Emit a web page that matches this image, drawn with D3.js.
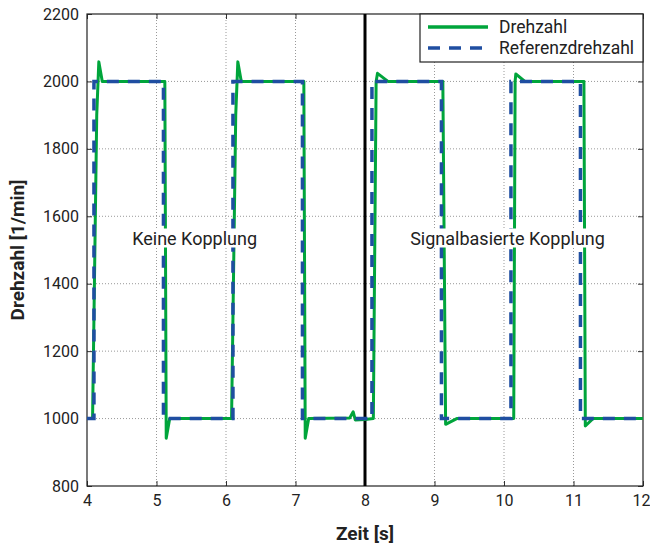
<!DOCTYPE html>
<html>
<head>
<meta charset="utf-8">
<script src="https://cdn.jsdelivr.net/npm/d3@7"></script>
<style>
  body { margin: 0; background: #fff; }
  text { font-family: Roboto, "Liberation Sans", sans-serif; fill: #222; }
</style>
</head>
<body>
<script>
// Daten: Zeit [s], Drehzahl [1/min]
var drehzahl = [
  [4,1000],[4.08,1000],[4.14,1900],[4.17,2058],[4.22,2000],
  [5.12,2000],[5.14,942],[5.19,1000],
  [6.08,1000],[6.14,1900],[6.17,2058],[6.22,2000],
  [7.12,2000],[7.14,942],[7.19,1000],
  [7.78,1002],[7.83,1020],[7.86,996],[8.0,997],
  [8.12,1000],[8.16,2000],[8.18,2024],[8.33,2000],
  [9.12,2000],[9.16,983],[9.32,1000],
  [10.14,1000],[10.16,2000],[10.17,2022],[10.3,2000],
  [11.15,2000],[11.17,978],[11.28,1000],[12,1000]
];
var referenz = [
  [4,1000],[4.1,1000],[4.1,2000],[5.1,2000],[5.1,1000],[6.1,1000],[6.1,2000],
  [7.1,2000],[7.1,1000],[8.1,1000],[8.1,2000],[9.1,2000],[9.1,1000],
  [10.1,1000],[10.1,2000],[11.1,2000],[11.1,1000],[12,1000]
];
var xTicks = [4,5,6,7,8,9,10,11,12];
var yTicks = [800,1000,1200,1400,1600,1800,2000,2200];
var annotations = [
  {text:"Keine Kopplung", t:4.65, v:1535},
  {text:"Signalbasierte Kopplung", t:8.65, v:1535}
];
var legendData = [
  {name:"Drehzahl", color:"#00a53b", dash:null},
  {name:"Referenzdrehzahl", color:"#1f4ea1", dash:"12,9"}
];

var width = 650, height = 546;
var margin = {left:87, right:7, top:14, bottom:60};
var pw = width - margin.left - margin.right,
    ph = height - margin.top - margin.bottom;

var svg = d3.select("body").append("svg")
    .attr("width", width).attr("height", height);
var g = svg.append("g").attr("transform","translate("+margin.left+","+margin.top+")");

var x = d3.scaleLinear().domain([4,12]).range([0,pw]);
var y = d3.scaleLinear().domain([800,2200]).range([ph,0]);

// Gitter
g.append("g").selectAll("line").data(xTicks.slice(1,-1)).enter().append("line")
  .attr("x1",d=>x(d)).attr("x2",d=>x(d)).attr("y1",0).attr("y2",ph)
  .attr("stroke","#999").attr("stroke-dasharray","1,2").attr("stroke-width",1);
g.append("g").selectAll("line").data(yTicks.slice(1,-1)).enter().append("line")
  .attr("x1",0).attr("x2",pw).attr("y1",d=>y(d)).attr("y2",d=>y(d))
  .attr("stroke","#999").attr("stroke-dasharray","1,2").attr("stroke-width",1);

// Achsen (Ticks nach innen)
var fmt = d3.format("d");
var xAxis = g.append("g").attr("transform","translate(0,"+ph+")")
  .call(d3.axisBottom(x).tickValues(xTicks).tickFormat(fmt).tickSizeInner(-5).tickSizeOuter(0).tickPadding(9));
var xAxisTop = g.append("g")
  .call(d3.axisTop(x).tickValues(xTicks).tickSizeInner(-5).tickSizeOuter(0).tickFormat(""));
var yAxis = g.append("g")
  .call(d3.axisLeft(y).tickValues(yTicks).tickFormat(fmt).tickSizeInner(-5).tickSizeOuter(0).tickPadding(8));
var yAxisRight = g.append("g").attr("transform","translate("+pw+",0)")
  .call(d3.axisRight(y).tickValues(yTicks).tickSizeInner(-5).tickSizeOuter(0).tickFormat(""));
[xAxis,xAxisTop,yAxis,yAxisRight].forEach(function(a){
  a.select(".domain").remove();
  a.selectAll(".tick line").attr("stroke","#333");
  a.selectAll("text").style("font-size","16px").attr("fill","#222")
    .style("font-family","Roboto, 'Liberation Sans', sans-serif");
});
// letzte Beschriftung am rechten Rand etwas nach links
xAxis.selectAll(".tick text").filter(d=>d===12).attr("dx","-2px");

// Rahmen
g.append("rect").attr("width",pw).attr("height",ph)
  .attr("fill","none").attr("stroke","#222").attr("stroke-width",1.2);

var line = d3.line().x(d=>x(d[0])).y(d=>y(d[1]));

// Trennlinie bei 8 s
g.append("line").attr("x1",x(8)).attr("x2",x(8)).attr("y1",0).attr("y2",ph)
  .attr("stroke","#000").attr("stroke-width",3);

g.append("path").datum(drehzahl).attr("d",line)
  .attr("fill","none").attr("stroke",legendData[0].color).attr("stroke-width",3)
  .attr("stroke-linejoin","round");
g.append("path").datum(referenz).attr("d",line)
  .attr("fill","none").attr("stroke",legendData[1].color).attr("stroke-width",3.5)
  .attr("stroke-dasharray",legendData[1].dash);

// Beschriftungen mit weissem Hintergrund
var anno = g.selectAll(".anno").data(annotations).enter().append("g").attr("class","anno");
var annoText = anno.append("text")
  .attr("x",d=>x(d.t)).attr("y",d=>y(d.v)).attr("dy","0.35em")
  .style("font-size","18px").text(d=>d.text);
annoText.each(function(){
  var b = this.getBBox();
  d3.select(this.parentNode).insert("rect","text")
    .attr("x",b.x-2).attr("y",b.y+1).attr("width",b.width+4).attr("height",b.height-2)
    .attr("fill","#fff");
});

// Legende
var lg = g.append("g").attr("transform","translate("+(pw-223)+",0)");
lg.append("rect").attr("width",223).attr("height",48)
  .attr("fill","#fff").attr("stroke","#222").attr("stroke-width",1.2);
var row = lg.selectAll(".row").data(legendData).enter().append("g")
  .attr("transform",(d,i)=>"translate(0,"+(13+i*21)+")");
row.append("line").attr("x1",8).attr("x2",68)
  .attr("stroke",d=>d.color).attr("stroke-width",3.5)
  .attr("stroke-dasharray",d=>d.dash);
row.append("text").attr("x",79).attr("dy","0.35em")
  .style("font-size","17.5px").text(d=>d.name);

// Achsentitel
svg.append("text").attr("x",margin.left+pw/2).attr("y",540)
  .attr("text-anchor","middle").style("font-size","19px").style("font-weight","bold")
  .text("Zeit [s]");
svg.append("text").attr("transform","translate(24,"+(margin.top+ph/2)+") rotate(-90)")
  .attr("text-anchor","middle").style("font-size","19px").style("font-weight","bold")
  .text("Drehzahl [1/min]");
</script>
</body>
</html>
